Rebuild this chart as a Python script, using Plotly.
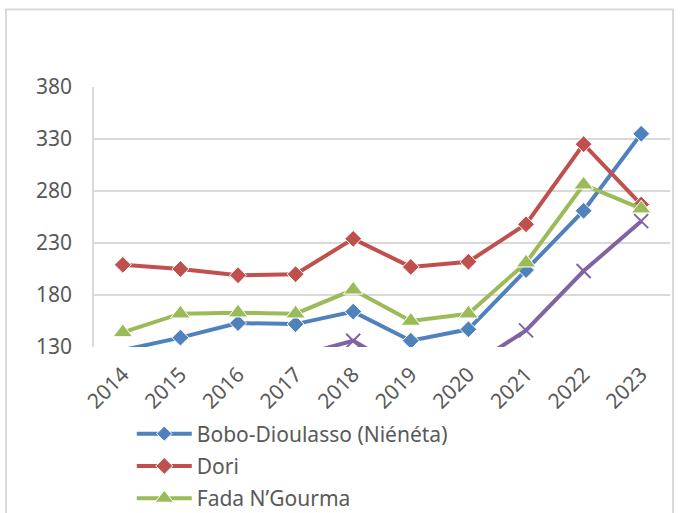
import plotly.graph_objects as go

years = ["2014", "2015", "2016", "2017", "2018", "2019", "2020", "2021", "2022", "2023"]

bobo = [127, 139, 153, 152, 164, 136, 147, 204, 261, 335]
dori = [209, 205, 199, 200, 234, 207, 212, 248, 325, 267]
fada = [144, 162, 163, 162, 185, 155, 162, 211, 286, 263]
serie4 = [110, 114, 117, 121, 136, 104, 110, 146, 203, 251]

series_names = ["Bobo-Dioulasso (Niénéta)", "Dori", "Fada N\u2019Gourma", "Série 4"]
y_ticks = [130, 180, 230, 280, 330, 380]

Y_MIN, Y_MAX = 130, 380
FONT = "Noto Sans"
TEXT_COL = "#595959"
GRID_COL = "#d9d9d9"


def sizes(values, s):
    # points below the value axis minimum are not drawn as markers
    return [s if v >= Y_MIN else 0 for v in values]


styles = [
    dict(color="#4F81BD", symbol="diamond", size=13),
    dict(color="#C0504D", symbol="diamond", size=13),
    dict(color="#9BBB59", symbol="triangle-up", size=17),
    dict(color="#8064A2", symbol="x-thin", size=14),
]

fig = go.Figure()
for name, vals, st, show in zip(series_names, [bobo, dori, fada, serie4], styles,
                                [True, True, True, False]):
    marker = dict(symbol=st["symbol"], size=sizes(vals, st["size"]),
                  color=st["color"], opacity=1)
    if st["symbol"] == "x-thin":
        marker["line"] = dict(color=st["color"], width=2)
    fig.add_trace(go.Scatter(
        x=years, y=vals, name=name, mode="lines+markers",
        line=dict(color=st["color"], width=4),
        marker=marker, showlegend=show, legendgroup=name,
    ))

fig.update_layout(
    width=681, height=513,
    margin=dict(l=94, r=11, t=87, b=166, autoexpand=False),
    paper_bgcolor="white", plot_bgcolor="white",
    font=dict(family=FONT, color=TEXT_COL, size=21),
    xaxis=dict(
        type="category", range=[-0.5, len(years) - 0.5],
        tickangle=-45, showgrid=False, zeroline=False,
        showline=False, ticks="", ticklabelstandoff=10, automargin=False,
        tickfont=dict(size=21, color=TEXT_COL),
    ),
    yaxis=dict(
        range=[Y_MIN, Y_MAX], tickvals=y_ticks, showgrid=True,
        gridcolor=GRID_COL, gridwidth=1.5, zeroline=False,
        showline=True, linecolor=GRID_COL, linewidth=1.5,
        ticks="", ticklabelstandoff=16, automargin=False,
        tickfont=dict(size=21, color=TEXT_COL),
    ),
    legend=dict(
        orientation="v", xref="container", yref="container",
        x=0.1935, xanchor="left", y=0.194, yanchor="top",
        font=dict(size=21, color=TEXT_COL), itemwidth=55,
        tracegroupgap=2, bgcolor="rgba(0,0,0,0)",
    ),
    shapes=[dict(
        type="rect", xref="paper", yref="paper",
        x0=(6 - 94) / 576, x1=(673 - 94) / 576,
        y0=-1.0, y1=(347 - 9.5) / 260,
        line=dict(color=GRID_COL, width=2), layer="below",
    )],
)

fig.write_html("out.html")
